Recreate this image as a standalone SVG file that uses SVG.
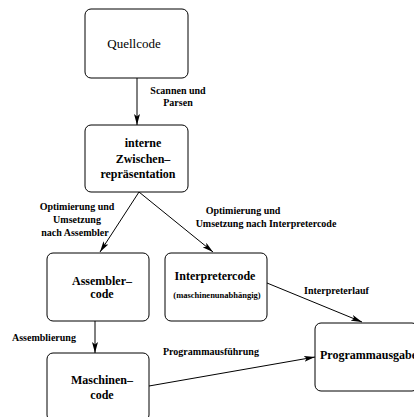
<svg xmlns="http://www.w3.org/2000/svg" width="414" height="417" viewBox="0 0 414 417">
  <style>
    .box { fill: #fff; stroke: #000; stroke-width: 1; }
    .edge { fill: none; stroke: #000; stroke-width: 1; marker-end: url(#arrow); }
    text { font-family: "Liberation Serif", "Times New Roman", serif; fill: #000; }
    .title { font-size: 12px; font-weight: bold; text-anchor: middle; }
    .plain { font-size: 13px; text-anchor: middle; }
    .small { font-size: 8.5px; font-weight: bold; text-anchor: middle; }
    .label { font-size: 10px; font-weight: bold; }
    .mid { text-anchor: middle; }
    .start { text-anchor: start; }
  </style>
  <defs>
    <!-- narrow filled arrowhead with a slight notch -->
    <marker id="arrow" viewBox="0 0 11 6" refX="11" refY="3" markerWidth="11" markerHeight="6" markerUnits="userSpaceOnUse" orient="auto">
      <path d="M0,0 L11,3 L0,6 L2.5,3 Z" fill="#000"/>
    </marker>
  </defs>
  <rect width="414" height="417" fill="#fff"/>

  <g id="connectors">
    <line class="edge" x1="137" y1="78" x2="137" y2="125"/>
    <line class="edge" x1="139" y1="192" x2="100" y2="252"/>
    <line class="edge" x1="139" y1="192" x2="213" y2="252"/>
    <line class="edge" x1="95" y1="321" x2="95" y2="353"/>
    <line class="edge" x1="267" y1="283" x2="362" y2="322"/>
    <line class="edge" x1="149" y1="386" x2="315" y2="357"/>
    <text class="label mid" x="178" y="94">Scannen und</text>
    <text class="label mid" x="178" y="106">Parsen</text>
    <text class="label mid" x="77" y="210">Optimierung und</text>
    <text class="label mid" x="77" y="223">Umsetzung</text>
    <text class="label mid" x="75" y="236">nach Assembler</text>
    <text class="label mid" x="243" y="214">Optimierung und</text>
    <text class="label mid" x="266" y="227">Umsetzung nach Interpretercode</text>
    <text class="label start" x="12" y="341">Assemblierung</text>
    <text class="label start" x="304" y="294">Interpreterlauf</text>
    <text class="label start" x="163" y="355">Programmausführung</text>
  </g>

  <g id="quellcode">
    <rect class="box" x="85" y="9" width="103" height="69" rx="6"/>
    <text class="plain" x="134" y="48">Quellcode</text>
  </g>

  <g id="zwischenrepraesentation">
    <rect class="box" x="85" y="125" width="103" height="67" rx="6"/>
    <text class="title" x="143" y="147">interne</text>
    <text class="title" x="143" y="163">Zwischen–</text>
    <text class="title" x="138" y="178">repräsentation</text>
  </g>

  <g id="assemblercode">
    <rect class="box" x="47" y="253" width="102" height="68" rx="6"/>
    <text class="title" x="102" y="285">Assembler–</text>
    <text class="title" x="102" y="298">code</text>
  </g>

  <g id="interpretercode">
    <rect class="box" x="165" y="253" width="102" height="68" rx="6"/>
    <text class="title" x="215" y="280">Interpretercode</text>
    <text class="small" x="217" y="298">(maschinenunabhängig)</text>
  </g>

  <g id="maschinencode">
    <rect class="box" x="47" y="353" width="102" height="68" rx="6"/>
    <text class="title" x="102" y="384">Maschinen–</text>
    <text class="title" x="102" y="399">code</text>
  </g>

  <g id="programmausgabe">
    <rect class="box" x="315" y="323" width="103" height="68" rx="6"/>
    <text class="title start" x="320" y="359">Programmausgabe</text>
  </g>
</svg>
